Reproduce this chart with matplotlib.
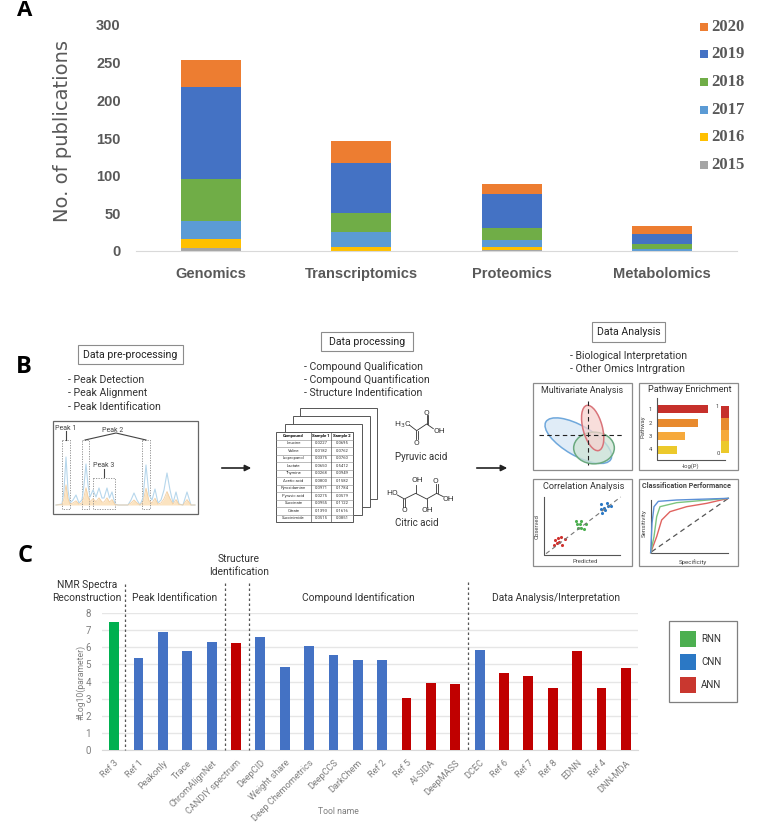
#!/usr/bin/env python3
import numpy as np
import matplotlib
matplotlib.use("Agg")
import matplotlib.pyplot as plt
from matplotlib.patches import Ellipse, Rectangle

W, H = 770, 823

# panel A
omics = ["Genomics", "Transcriptomics", "Proteomics", "Metabolomics"]
years = ["2015", "2016", "2017", "2018", "2019", "2020"]
year_colors = ["#a5a5a5", "#ffc000", "#5b9bd5", "#70ad47", "#4472c4", "#ed7d31"]
pubs_2015 = [4, 0, 1, 0]
pubs_2016 = [12, 5, 4, 0]
pubs_2017 = [24, 20, 10, 2]
pubs_2018 = [56, 26, 16, 7]
pubs_2019 = [122, 66, 45, 14]
pubs_2020 = [36, 29, 13, 10]
pubs = [pubs_2015, pubs_2016, pubs_2017, pubs_2018, pubs_2019, pubs_2020]

# panel C
tools = ["Ref 3", "Ref 1", "Peakonly", "Trace", "ChromAlignNet", "CANDIY spectrum",
         "DeepCID", "Weight share", "Deep Chemometrics", "DeepCCS", "DarkChem", "Ref 2",
         "Ref 5", "AI-SIDA", "DeepMASS", "DCEC", "Ref 6", "Ref 7", "Ref 8", "EDNN",
         "Ref 4", "DNN-MDA"]
log_params = [7.47, 5.37, 6.87, 5.8, 6.32, 6.22, 6.6, 4.86, 6.07, 5.52, 5.23, 5.27,
              3.05, 3.93, 3.84, 5.85, 4.5, 4.3, 3.62, 5.81, 3.62, 4.77]
tool_types = ["RNN", "CNN", "CNN", "CNN", "CNN", "ANN", "CNN", "CNN", "CNN", "CNN", "CNN", "CNN",
              "ANN", "ANN", "ANN", "CNN", "ANN", "ANN", "ANN", "ANN", "ANN", "ANN"]
type_colors = {"RNN": "#00b050", "CNN": "#4472c4", "ANN": "#c00000"}
legend_colors = {"RNN": "#4caf50", "CNN": "#2b78c5", "ANN": "#c9372f"}

# panel B table
compounds = ["Leucine", "Valine", "Isopropanol", "Lactate", "Thymine", "Acetic acid",
             "Pyroxidamine", "Pyruvic acid", "Succinate", "Citrate", "Succinimide"]
sample1 = ["0.0227", "0.0182", "0.0375", "0.0650", "0.0268", "0.0800",
           "0.0971", "0.0275", "0.0955", "0.1393", "0.0515"]
sample2 = ["0.0695", "0.0762", "0.0760", "0.5412", "0.0949", "0.1582",
           "0.1784", "0.0579", "0.1122", "0.1616", "0.0851"]

# spectrum trace, read in pixels
trace_x = [56, 62, 64, 66, 68, 70, 73, 76, 79, 82, 84, 86, 88, 90, 93, 96, 99, 102, 104, 107,
           109.5, 112, 115, 118, 128, 131, 134, 137, 140, 143, 146, 149, 152, 155, 158, 161,
           164, 167, 170, 173, 176, 179, 183, 187, 191, 195]
trace_y = [505, 504, 490, 457, 490, 503, 500, 495, 503, 500, 485, 464, 485, 497, 490, 497, 488,
           498, 498, 488, 498, 492, 504, 505, 505, 500, 493, 500, 505, 498, 465, 495, 500, 489,
           503, 500, 490, 473, 490, 503, 492, 504, 505, 492, 505, 505]

# correlation scatter, crop pixels at 3x
red_x = [75, 72, 85, 92, 105, 88, 97, 82]
red_y = [205, 218, 197, 195, 202, 210, 218, 213]
green_x = [137, 153, 150, 167, 145, 153, 163, 140]
green_y = [147, 146, 157, 156, 168, 168, 172, 155]
blue_x = [213, 231, 213, 222, 235, 243, 226, 215]
blue_y = [95, 94, 110, 107, 103, 103, 113, 123]

# classification curves, crop pixels at 3x
roc_blue_x = [752, 756, 762, 775, 830, 985]
roc_blue_y = [728, 640, 590, 574, 570, 565]
roc_green_x = [752, 762, 770, 780, 830, 900, 985]
roc_green_y = [728, 680, 620, 590, 578, 572, 565]
roc_red_x = [752, 770, 785, 810, 860, 920, 985]
roc_red_y = [728, 680, 630, 605, 590, 580, 565]

pathway_ends = [218, 190, 150, 127]
pathway_colors = ["#c6302b", "#e88a2e", "#f6a93b", "#ecc92b"]

plt.rcParams["font.family"] = ["Roboto", "DejaVu Sans"]


def axes_px(fig, x0, y0, x1, y1):
    return fig.add_axes([x0 / W, 1 - y1 / H, (x1 - x0) / W, (y1 - y0) / H])


def panel_a(fig, ov):
    ax = axes_px(fig, 136, 25, 737, 251)
    bottom = np.zeros(len(omics))
    for vals, color in zip(pubs, year_colors):
        ax.bar(range(len(omics)), vals, 0.4, bottom=bottom, color=color)
        bottom += np.array(vals)
    ax.set_xlim(-0.5, 3.5)
    ax.set_ylim(0, 300)
    ax.set_yticks(range(0, 301, 50))
    ax.set_xticks(range(len(omics)), omics)
    for s in ["top", "left", "right"]:
        ax.spines[s].set_visible(False)
    ax.spines["bottom"].set_color("#d9d9d9")
    ax.tick_params(length=0)
    ax.tick_params(axis="x", pad=11.5)
    ax.tick_params(axis="y", pad=11)
    for t in ax.get_xticklabels() + ax.get_yticklabels():
        t.set_family("Liberation Sans")
        t.set_fontweight("bold")
        t.set_fontsize(10.5)
        t.set_color("#595959")
    ov.text(62, 131, "No. of publications", rotation=90, fontsize=14, color="#595959",
            family="DejaVu Sans", ha="center", va="center")
    ys = [165, 137.3, 110, 82.3, 54.3, 26.7]
    for label, color, y in zip(years, year_colors, ys):
        ov.add_patch(Rectangle((700, y - 4), 8, 8, color=color, lw=0))
        ov.text(711, y, label, fontsize=12, fontweight="bold", family="Liberation Serif",
                color="#595959", va="center")
    ov.text(25, 10.5, "A", fontsize=16, fontweight="bold", family="Open Sans", ha="center", va="center")


def label_box(ov, x0, y0, x1, y1, text, size=7.6):
    ov.add_patch(Rectangle((x0, y0), x1 - x0, y1 - y0, fc="white", ec="#8c8c8c", lw=0.8))
    ov.text((x0 + x1) / 2, (y0 + y1) / 2, text, fontsize=size, color="#222222", ha="center", va="center")


def arrow(ov, x0, x1, y):
    ov.annotate("", xy=(x1, y), xytext=(x0, y),
                arrowprops=dict(arrowstyle="-|>", color="#222222", lw=1.2, mutation_scale=9))


def dashed_box(ov, x0, y0, x1, y1):
    ov.add_patch(Rectangle((x0, y0), x1 - x0, y1 - y0, fc="none", ec="#888888", lw=0.6, ls=(0, (1.5, 1.5))))


def panel_b_left(ov):
    ov.text(24, 367, "B", fontsize=17, fontweight="bold", family="Open Sans", ha="center", va="center")
    label_box(ov, 78, 345, 183, 364, "Data pre-processing")
    for y, t in zip([380, 393, 407], ["- Peak Detection", "- Peak Alignment", "- Peak Identification"]):
        ov.text(68, y, t, fontsize=7.6, color="#333333", va="center")
    ov.add_patch(Rectangle((53, 421), 145, 93, fc="white", ec="#666666", lw=0.9))
    lower = 505 - (505 - np.array(trace_y)) * 0.42
    ov.fill_between(trace_x, [505] * len(trace_x), lower, color="#fbe3c0", lw=0)
    ov.plot(trace_x, trace_y, color="#b7d7ec", lw=0.8)
    ov.plot(trace_x, lower, color="#f3cfa3", lw=0.6)
    dashed_box(ov, 61.5, 440, 70, 509)
    dashed_box(ov, 81.5, 440, 89, 509)
    dashed_box(ov, 141.5, 440, 149.5, 509)
    dashed_box(ov, 92.5, 478, 115, 509)
    ov.plot([85, 116, 146], [440, 433, 440], color="#444444", lw=0.8)
    ov.plot([66, 66], [431, 440], color="#444444", lw=0.8)
    ov.plot([103.5, 103.5], [469, 477], color="#444444", lw=0.8)
    ov.text(66, 428, "Peak 1", fontsize=5, color="#444444", ha="center", va="center")
    ov.text(113, 430, "Peak 2", fontsize=5, color="#444444", ha="center", va="center")
    ov.text(104, 465, "Peak 3", fontsize=5, color="#444444", ha="center", va="center")
    arrow(ov, 219, 254, 468)


def panel_b_mid(ov):
    label_box(ov, 321, 332, 413, 351, "Data processing")
    for y, t in zip([367, 380, 393], ["- Compound Qualification", "- Compound Quantification",
                                      "- Structure Indentification"]):
        ov.text(304, y, t, fontsize=7.6, color="#333333", va="center")
    for x, y in [(300, 407.5), (292.7, 415.7), (285, 423.5)]:
        ov.add_patch(Rectangle((x, y), 77, 91, fc="white", ec="#555555", lw=0.7))
    # table
    x0, x1, xa, xb, y0, y1 = 276, 353, 311, 331, 432, 522
    ov.add_patch(Rectangle((x0, y0), x1 - x0, y1 - y0, fc="white", ec="#555555", lw=0.7))
    row = (y1 - y0) / 12
    for i in range(1, 12):
        ov.plot([x0, x1], [y0 + i * row] * 2, color="#888888", lw=0.4)
    ov.plot([xa, xa], [y0, y1], color="#555555", lw=0.5)
    ov.plot([xb, xb], [y0, y1], color="#555555", lw=0.5)
    heads = ["Compound", "Sample 1", "Sample 2"]
    centers = [(x0 + xa) / 2, (xa + xb) / 2, (xb + x1) / 2]
    for cx, h in zip(centers, heads):
        ov.text(cx, y0 + row / 2, h, fontsize=3.1, fontweight="bold", ha="center", va="center")
    for i, (c, a, b) in enumerate(zip(compounds, sample1, sample2)):
        y = y0 + (i + 1.5) * row
        for cx, t in zip(centers, (c, a, b)):
            ov.text(cx, y, t, fontsize=3, color="#333333", ha="center", va="center")
    # molecules, crop pixels at 3x
    cx = lambda v: 270 + np.array(v) / 3
    cy = lambda v: 400 + np.array(v) / 3
    bonds = [([418, 440, 470, 490], [75, 92, 72, 86]), ([470, 470], [72, 46]), ([475, 475], [72, 46]),
             ([437, 437], [92, 118]), ([443, 443], [92, 118]),
             ([382, 403, 437, 470, 500, 520], [285, 297, 280, 297, 280, 290]),
             ([400, 400], [297, 322]), ([406, 406], [297, 322]),
             ([497, 497], [280, 253]), ([503, 503], [280, 253]),
             ([437, 437], [280, 256]), ([470, 470], [297, 320])]
    for bx, by in bonds:
        ov.plot(cx(bx), cy(by), color="#333333", lw=0.6)
    labels = [(398, 75, "H$_3$C"), (470, 38, "O"), (508, 92, "OH"), (440, 128, "O"),
              (365, 280, "HO"), (536, 297, "OH"), (403, 330, "O"), (497, 243, "O"),
              (441, 241, "OH"), (473, 330, "OH")]
    for lx, ly, t in labels:
        ov.text(cx(lx), cy(ly), t, fontsize=6, color="#333333", ha="center", va="center")
    ov.text(cx(455), cy(170), "Pyruvic acid", fontsize=7, color="#333333", ha="center", va="center")
    ov.text(cx(440), cy(370), "Citric acid", fontsize=7, color="#333333", ha="center", va="center")
    arrow(ov, 474, 510, 468)


def panel_b_right(ov):
    label_box(ov, 592, 322, 665, 342, "Data Analysis")
    ov.text(570, 356, "- Biological Interpretation", fontsize=7.6, color="#333333", va="center")
    ov.text(570, 369, "- Other Omics Intrgration", fontsize=7.6, color="#333333", va="center")
    for x, y in [(533, 383), (639, 383), (533, 479), (639, 479)]:
        ov.add_patch(Rectangle((x, y), 98.5, 87, fc="white", ec="#8c8c8c", lw=0.9))

    # multivariate, crop offset (530, 378)
    mx = lambda v: 530 + np.array(v) / 3
    my = lambda v: 378 + np.array(v) / 3
    ov.text(mx(157), my(38), "Multivariate Analysis", fontsize=6.4, color="#333333", ha="center", va="center")
    ells = [(145, 188, 225, 90, 30, "#d6e6f5", "#6fa8dc"), (192, 210, 122, 95, 0, "#cfe5d6", "#6aa97f"),
            (188, 150, 140, 58, 75, "#f6d3d0", "#d9747a")]
    for ex, ey, ew, eh, ang, fc, ec in ells:
        ov.add_patch(Ellipse((mx(ex), my(ey)), ew / 3, eh / 3, angle=ang, fc=fc, ec="none", alpha=0.75))
        ov.add_patch(Ellipse((mx(ex), my(ey)), ew / 3, eh / 3, angle=ang, fc="none", ec=ec, lw=1.1))
    ov.plot(mx([28, 280]), my([171, 171]), color="#222222", lw=0.8, ls=(0, (4, 3)))
    ov.plot(mx([175, 175]), my([70, 262]), color="#222222", lw=0.8, ls=(0, (4, 3)))

    # correlation, crop offset (530, 472)
    qx = lambda v: 530 + np.array(v) / 3
    qy = lambda v: 472 + np.array(v) / 3
    ov.text(qx(161), qy(42), "Correlation Analysis", fontsize=6.6, color="#333333", ha="center", va="center")
    ov.plot(qx([43, 43, 270]), qy([75, 248, 248]), color="#555555", lw=0.8)
    ov.plot(qx([48, 272]), qy([245, 75]), color="#777777", lw=0.8, ls=(0, (4, 3)))
    ov.scatter(qx(red_x), qy(red_y), s=5, color="#d0312d", lw=0)
    ov.scatter(qx(green_x), qy(green_y), s=5, color="#4caf50", lw=0)
    ov.scatter(qx(blue_x), qy(blue_y), s=5, color="#2b78c5", lw=0)
    ov.text(qx(166), qy(268), "Predicted", fontsize=4.2, color="#444444", ha="center", va="center")
    ov.text(qx(22), qy(163), "Observed", fontsize=4.2, color="#444444", rotation=90, ha="center", va="center")

    # pathway, crop offset (635, 378)
    px = lambda v: 635 + np.array(v) / 3
    py = lambda v: 378 + np.array(v) / 3
    ov.text(px(165), py(35), "Pathway Enrichment", fontsize=6.6, color="#333333", ha="center", va="center")
    ov.plot(px([65, 65, 270]), py([60, 245, 245]), color="#555555", lw=0.8)
    bar_tops = [82, 123, 163, 203]
    for i, (top, end, color) in enumerate(zip(bar_tops, pathway_ends, pathway_colors)):
        ov.add_patch(Rectangle((px(65), py(top)), (end - 65) / 3, 8, color=color, lw=0))
        ov.text(px(47), py(top + 12), str(i + 1), fontsize=4.2, color="#444444", ha="center", va="center")
        ov.add_patch(Rectangle((px(259), py(85 + 35 * i)), 8, 35 / 3, color=pathway_colors[i], lw=0))
    ov.text(px(248), py(85), "1", fontsize=4.2, color="#444444", ha="center", va="center")
    ov.text(px(250), py(227), "0", fontsize=4.2, color="#444444", ha="center", va="center")
    ov.text(px(25), py(145), "Pathway", fontsize=4.2, color="#444444", rotation=90, ha="center", va="center")
    ov.text(px(166), py(263), "-log(P)", fontsize=4.2, color="#444444", ha="center", va="center")

    # classification, crop offset (400, 310)
    rx = lambda v: 400 + np.array(v) / 3
    ry = lambda v: 310 + np.array(v) / 3
    ov.text(rx(858), ry(527), "Classification Performance", fontsize=5.2, fontweight="bold",
            color="#444444", ha="center", va="center")
    ov.plot(rx([752, 752, 985]), ry([570, 728, 728]), color="#555555", lw=0.8)
    ov.plot(rx([755, 985]), ry([725, 565]), color="#555555", lw=0.9, ls=(0, (4, 3)))
    ov.plot(rx(roc_red_x), ry(roc_red_y), color="#e0635f", lw=1)
    ov.plot(rx(roc_green_x), ry(roc_green_y), color="#7cc47f", lw=1)
    ov.plot(rx(roc_blue_x), ry(roc_blue_y), color="#5b8fd6", lw=1)
    ov.text(rx(878), ry(756), "Specificity", fontsize=4.4, color="#444444", ha="center", va="center")
    ov.text(rx(732), ry(640), "Sensitivity", fontsize=4.4, color="#444444", rotation=90, ha="center", va="center")


def panel_c(fig, ov):
    ax = axes_px(fig, 102, 613, 638, 750)
    colors = [type_colors[t] for t in tool_types]
    ax.bar(range(len(tools)), log_params, 0.4, color=colors, zorder=3)
    ax.set_xlim(-0.5, 21.5)
    ax.set_ylim(0, 8)
    ax.set_yticks(range(0, 9))
    ax.set_xticks(range(len(tools)), tools, rotation=45, ha="right", rotation_mode="anchor")
    ax.grid(axis="y", color="#e6e6e6", lw=1, zorder=0)
    for s in ["top", "left", "right"]:
        ax.spines[s].set_visible(False)
    ax.spines["bottom"].set_color("#d9d9d9")
    ax.tick_params(length=0, labelcolor="#7f7f7f")
    ax.tick_params(axis="x", labelsize=6.6, pad=6)
    ax.tick_params(axis="y", labelsize=7, pad=8)
    ov.text(81, 682, "#Log10(parameter)", fontsize=6.2, color="#7f7f7f", rotation=90, ha="center", va="center")
    ov.text(338, 812, "Tool name", fontsize=6.2, color="#7f7f7f", ha="center", va="center")
    ov.text(25, 556, "C", fontsize=17, fontweight="bold", family="Open Sans", ha="center", va="center")
    for x, y in [(125, 584), (224.7, 583), (249, 583), (468, 582)]:
        ov.plot([x, x], [y, 750], color="#555555", lw=0.9, ls=(0, (2, 2)), zorder=6)
    section_labels = [(87, 585, "NMR Spectra"), (87, 598, "Reconstruction"), (175, 598, "Peak Identification"),
                      (239, 559, "Structure"), (239, 572, "Identification"), (358, 598, "Compound Identification"),
                      (556, 598, "Data Analysis/Interpretation")]
    for x, y, t in section_labels:
        ov.text(x, y, t, fontsize=7.4, color="#333333", ha="center", va="center")
    ov.add_patch(Rectangle((669, 621), 68, 81, fc="white", ec="#7f7f7f", lw=0.9))
    for y, name in zip([631, 654, 677], ["RNN", "CNN", "ANN"]):
        ov.add_patch(Rectangle((680, y), 16, 16, color=legend_colors[name], lw=0))
        ov.text(701, y + 8, name, fontsize=7, color="#333333", va="center")


def main():
    fig = plt.figure(figsize=(W / 100, H / 100), dpi=100)
    # overlay in image pixels for the schematic parts
    ov = fig.add_axes([0, 0, 1, 1], zorder=5)
    ov.set_xlim(0, W)
    ov.set_ylim(H, 0)
    ov.axis("off")
    ov.patch.set_alpha(0)
    panel_a(fig, ov)
    panel_b_left(ov)
    panel_b_mid(ov)
    panel_b_right(ov)
    panel_c(fig, ov)
    fig.savefig("out.png", dpi=100)
    plt.close(fig)


if __name__ == "__main__":
    main()
